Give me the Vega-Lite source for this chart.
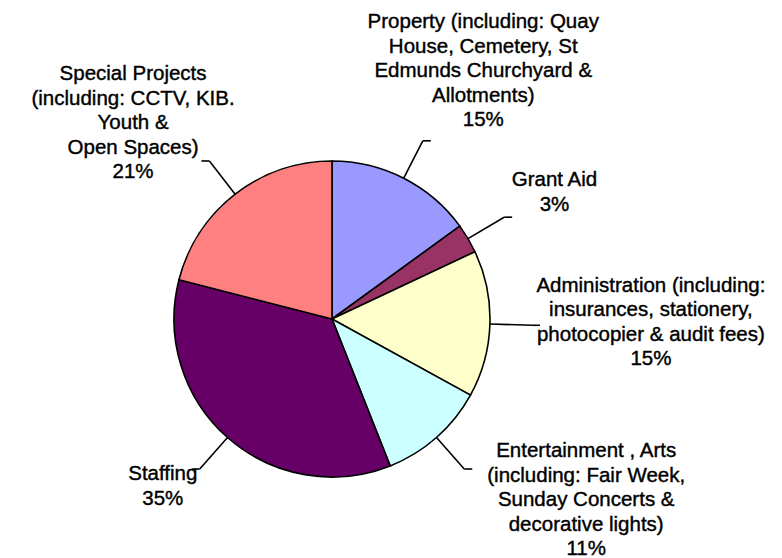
{
  "$schema": "https://vega.github.io/schema/vega-lite/v6.json",
  "autosize": "none",
  "width": 664,
  "height": 478,
  "padding": {"left": 0, "top": 80, "right": 118, "bottom": 0},
  "background": "white",
  "config": {"view": {"stroke": null}, "text": {"font": "Liberation Sans", "fontSize": 20.5, "lineHeight": 24.5, "lineBreak": "\n", "align": "center", "baseline": "middle", "color": "black", "stroke": "black", "strokeWidth": 0.4}},
  "data": {
    "values": [
      {"order": 1, "category": "Property", "value": 15, "label": "Property (including: Quay\nHouse, Cemetery, St\nEdmunds Churchyard &\nAllotments)\n15%"},
      {"order": 2, "category": "Grant Aid", "value": 3, "label": "Grant Aid\n3%"},
      {"order": 3, "category": "Administration", "value": 15, "label": "Administration (including:\ninsurances, stationery,\nphotocopier & audit fees)\n15%"},
      {"order": 4, "category": "Entertainment", "value": 11, "label": "Entertainment ,  Arts\n(including: Fair Week,\nSunday Concerts &\ndecorative lights)\n11%"},
      {"order": 5, "category": "Staffing", "value": 35, "label": "Staffing\n35%"},
      {"order": 6, "category": "Special Projects", "value": 21, "label": "Special Projects\n(including: CCTV, KIB.\nYouth &\nOpen Spaces)\n21%"}
    ]
  },
  "transform": [
    {"window": [{"op": "sum", "field": "value", "as": "cum"}], "sort": [{"field": "order", "order": "ascending"}], "frame": [null, 0]},
    {"joinaggregate": [{"op": "sum", "field": "value", "as": "total"}]},
    {"calculate": "(datum.cum - datum.value / 2) / datum.total * 2 * PI", "as": "mid"},
    {"calculate": "158 * sin(datum.mid)", "as": "lx1"},
    {"calculate": "158 * cos(datum.mid)", "as": "ly1"},
    {"calculate": "200 * sin(datum.mid)", "as": "ex"},
    {"calculate": "200 * cos(datum.mid)", "as": "ey"},
    {"calculate": "datum.ex + (sin(datum.mid) >= 0 ? 8 : -8)", "as": "tx"},
    {"calculate": "212 * sin(datum.mid)", "as": "lx2"},
    {"calculate": "212 * cos(datum.mid)", "as": "ly2"}
  ],
  "layer": [
    {
      "mark": {"type": "arc", "outerRadius": 158, "stroke": "black", "strokeWidth": 1.6},
      "encoding": {
        "theta": {"field": "value", "type": "quantitative", "stack": true},
        "order": {"field": "order", "type": "quantitative"},
        "color": {
          "field": "category",
          "type": "nominal",
          "legend": null,
          "scale": {
            "domain": ["Property", "Grant Aid", "Administration", "Entertainment", "Staffing", "Special Projects"],
            "range": ["#9999FF", "#993366", "#FFFFCC", "#CCFFFF", "#660066", "#FF8080"]
          }
        }
      }
    },
    {
      "mark": {"type": "rule", "color": "black", "strokeWidth": 1.6},
      "encoding": {
        "x": {"field": "lx1", "type": "quantitative", "axis": null, "scale": {"domain": [-332, 332], "nice": false, "zero": false}},
        "y": {"field": "ly1", "type": "quantitative", "axis": null, "scale": {"domain": [-239, 239], "nice": false, "zero": false}},
        "x2": {"field": "ex"},
        "y2": {"field": "ey"}
      }
    },
    {
      "mark": {"type": "rule", "color": "black", "strokeWidth": 1.6},
      "encoding": {
        "x": {"field": "ex", "type": "quantitative"},
        "y": {"field": "ey", "type": "quantitative"},
        "x2": {"field": "tx"}
      }
    },
    {
      "transform": [{"filter": "datum.category == 'Property'"}],
      "mark": {"type": "text", "dx": 55, "dy": -108},
      "encoding": {"x": {"field": "lx2", "type": "quantitative"}, "y": {"field": "ly2", "type": "quantitative"}, "text": {"field": "label"}}
    },
    {
      "transform": [{"filter": "datum.category == 'Grant Aid'"}],
      "mark": {"type": "text", "dx": 40, "dy": -31},
      "encoding": {"x": {"field": "lx2", "type": "quantitative"}, "y": {"field": "ly2", "type": "quantitative"}, "text": {"field": "label"}}
    },
    {
      "transform": [{"filter": "datum.category == 'Administration'"}],
      "mark": {"type": "text", "dx": 107, "dy": -40},
      "encoding": {"x": {"field": "lx2", "type": "quantitative"}, "y": {"field": "ly2", "type": "quantitative"}, "text": {"field": "label"}}
    },
    {
      "transform": [{"filter": "datum.category == 'Entertainment'"}],
      "mark": {"type": "text", "dx": 114, "dy": -27},
      "encoding": {"x": {"field": "lx2", "type": "quantitative"}, "y": {"field": "ly2", "type": "quantitative"}, "text": {"field": "label"}}
    },
    {
      "transform": [{"filter": "datum.category == 'Staffing'"}],
      "mark": {"type": "text", "dx": -29, "dy": -4},
      "encoding": {"x": {"field": "lx2", "type": "quantitative"}, "y": {"field": "ly2", "type": "quantitative"}, "text": {"field": "label"}}
    },
    {
      "transform": [{"filter": "datum.category == 'Special Projects'"}],
      "mark": {"type": "text", "dx": -69, "dy": -77},
      "encoding": {"x": {"field": "lx2", "type": "quantitative"}, "y": {"field": "ly2", "type": "quantitative"}, "text": {"field": "label"}}
    }
  ]
}
